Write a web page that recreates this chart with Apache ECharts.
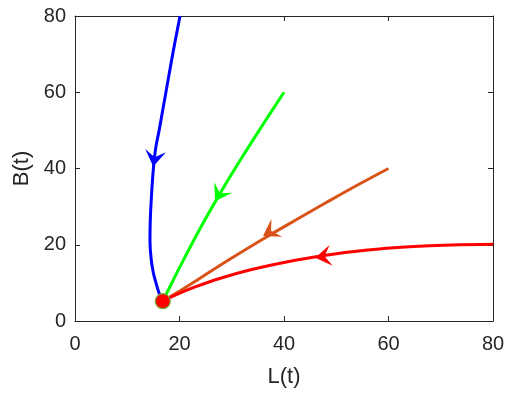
<!DOCTYPE html>
<html>
<head>
<meta charset="utf-8">
<script src="https://cdn.jsdelivr.net/npm/echarts@6/dist/echarts.min.js"></script>
<style>
  html, body { margin: 0; padding: 0; background: #fff; }
  #chart { width: 513px; height: 401px; }
</style>
</head>
<body>
<div id="chart"></div>
<script>
// 轨迹数据 (L, B)，从起点走向平衡点
const blueL = [20.1, 18.7, 17.4, 16.1, 15.4, 15.0, 14.6, 14.4, 14.35, 14.6, 15.0, 15.5, 16.1, 16.8]
const blueB = [80, 70, 60, 50, 45, 40, 32, 26, 21, 16, 12.6, 10, 7.3, 5.2]

const greenL = [40, 36, 32, 28, 24, 20, 17.6, 16.8]
const greenB = [60, 51.6, 43.0, 34.0, 24.4, 14.0, 7.4, 5.2]

const orangeL = [60, 54, 48, 42, 36, 30, 24, 19, 16.8]
const orangeB = [40, 35.6, 31.0, 26.3, 21.5, 16.5, 11.3, 7.0, 5.2]

const redL = [80, 72, 64, 56, 48, 40, 34, 28, 23, 19.5, 16.8]
const redB = [20.15, 19.95, 19.45, 18.6, 17.25, 15.37, 13.57, 11.29, 8.94, 6.98, 5.2]

// 平衡点
const equilibrium = [16.8, 5.2]

// 箭头位置（箭头中心）
const arrowAt = {
  blue: [15.2, 42.6],
  green: [27.6, 33.2],
  orange: [37.3, 23.4],
  red: [47.5, 16.9]
}

const axisTicks = [0, 20, 40, 60, 80]

const colors = {
  blue: '#0000ff',
  green: '#00ff00',
  orange: '#d95319',
  red: '#ff0000'
}

const paths = {
  blue: [blueL, blueB],
  green: [greenL, greenB],
  orange: [orangeL, orangeB],
  red: [redL, redB]
}

const zip = (xs, ys) => xs.map((x, i) => [x, ys[i]])

const textColor = '#262626'
const font = 'Liberation Sans, Arial, Helvetica, sans-serif'

// 朝上的箭头形状，尾部带缺口
const arrowPath = 'path://M11,0 L22,17 L11,10 L0,17 Z'

const chart = echarts.init(document.getElementById('chart'))

const baseAxis = {
  type: 'value',
  min: axisTicks[0],
  max: axisTicks[axisTicks.length - 1],
  interval: 20,
  splitLine: {show: false},
  axisLine: {show: true, onZero: false, lineStyle: {color: textColor, width: 1}},
  axisTick: {show: true, inside: true, length: 5, lineStyle: {color: textColor}}
}

const lineSeries = Object.keys(paths).map(k => ({
  type: 'line',
  name: k,
  data: zip(paths[k][0], paths[k][1]),
  smooth: 0.4,
  symbol: 'none',
  lineStyle: {color: colors[k], width: 3},
  z: 2
}))

const arrowSeries = Object.keys(arrowAt).map(k => ({
  type: 'scatter',
  name: k + '-arrow',
  data: [arrowAt[k]],
  symbol: arrowPath,
  symbolSize: [21, 16],
  symbolRotate: 0,
  itemStyle: {color: colors[k], opacity: 1},
  silent: true,
  z: 3
}))

chart.setOption({
  animation: false,
  grid: {left: 75, right: 20, top: 16, bottom: 80, show: false},
  xAxis: [
    Object.assign({}, baseAxis, {
      position: 'bottom',
      name: 'L(t)',
      nameLocation: 'middle',
      nameGap: 45,
      nameTextStyle: {color: textColor, fontSize: 22, fontFamily: font},
      axisLabel: {color: textColor, fontSize: 20, fontFamily: font, margin: 13}
    }),
    Object.assign({}, baseAxis, {position: 'top', axisLabel: {show: false}})
  ],
  yAxis: [
    Object.assign({}, baseAxis, {
      position: 'left',
      name: 'B(t)',
      nameLocation: 'middle',
      nameGap: 38,
      nameTextStyle: {color: textColor, fontSize: 22, fontFamily: font},
      axisLabel: {color: textColor, fontSize: 20, fontFamily: font, margin: 9}
    }),
    Object.assign({}, baseAxis, {position: 'right', axisLabel: {show: false}})
  ],
  series: [
    ...lineSeries,
    ...arrowSeries,
    {
      type: 'scatter',
      name: 'equilibrium',
      data: [equilibrium],
      symbol: 'circle',
      symbolSize: 15,
      itemStyle: {color: colors.red, borderColor: '#77ac30', borderWidth: 1.2, opacity: 1},
      z: 4
    }
  ]
})

// 根据轨迹在像素坐标中的切线方向旋转箭头（逆时针为正）
const rotations = Object.keys(arrowAt).map(k => {
  const pts = zip(paths[k][0], paths[k][1])
  const a = arrowAt[k]
  let best = 0, bestD = Infinity
  pts.forEach((p, i) => {
    const d = (p[0] - a[0]) ** 2 + (p[1] - a[1]) ** 2
    if (d < bestD) { bestD = d; best = i }
  })
  const i0 = Math.max(0, best - 1)
  const i1 = Math.min(pts.length - 1, best + 1)
  const p0 = chart.convertToPixel({gridIndex: 0}, pts[i0])
  const p1 = chart.convertToPixel({gridIndex: 0}, pts[i1])
  const dx = p1[0] - p0[0]
  const dy = p1[1] - p0[1]
  return Math.atan2(-dx, -dy) * 180 / Math.PI
})

chart.setOption({
  series: [
    ...lineSeries.map(() => ({})),
    ...rotations.map(r => ({symbolRotate: r}))
  ]
})
</script>
</body>
</html>
